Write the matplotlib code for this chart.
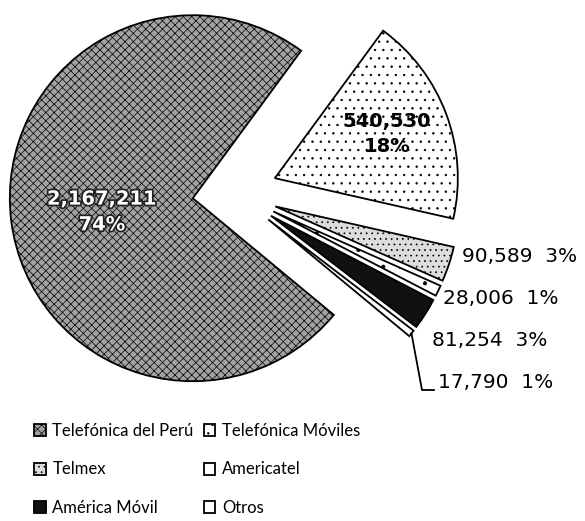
import numpy as np
import matplotlib.pyplot as plt
from matplotlib import patheffects

# datos del gráfico
operators = ["Telefónica del Perú", "Telefónica Móviles", "Telmex",
             "Americatel", "América Móvil", "Otros"]
lines = [2167211, 540530, 90589, 28006, 81254, 17790]

W, H = 585, 521
plt.rcParams['font.family'] = ['Lato', 'DejaVu Sans']
plt.rcParams['hatch.linewidth'] = 0.5

fig = plt.figure(figsize=(W / 100, H / 100), dpi=100)
ax = fig.add_axes([0, 0, 1, 1])

faces = ['#a2a2a2', 'white', '#dddddd', 'white', '#111111', 'white']
hatches = ['xxxx', '..', '...', '.', None, None]

wedges, _ = ax.pie(lines, radius=183, center=(235, H - 193), startangle=-39.6,
                   counterclock=False, explode=[42.5] * len(lines),
                   colors=faces, hatch=hatches,
                   wedgeprops=dict(edgecolor='black', linewidth=1.3))
ax.set_xlim(0, W)
ax.set_ylim(0, H)
ax.set_aspect('equal')
ax.axis('off')

total = sum(lines)
pct = [round(v / total * 100) for v in lines]

# etiquetas dentro
ax.text(102, H - 212, f"{lines[0]:,}\n{pct[0]}%", ha='center', va='center',
        color='white', fontsize=14, fontweight='bold', linespacing=1.45,
        family='DejaVu Sans',
        path_effects=[patheffects.withStroke(linewidth=2.5, foreground='#222222')])
ax.text(387, H - 134, f"{lines[1]:,}\n{pct[1]}%", ha='center', va='center',
        color='black', fontsize=14, fontweight='bold', linespacing=1.45,
        family='DejaVu Sans')

# etiquetas fuera
outside = [(462, 257), (443, 298), (432, 340), (438, 383)]
for i, (x, y) in zip(range(2, 6), outside):
    ax.text(x, H - y, f"{lines[i]:,}  {pct[i]}%", ha='left', va='center',
            fontsize=14.5, color='black', family='DejaVu Sans')

# línea guía para Otros
w = wedges[5]
th = np.deg2rad((w.theta1 + w.theta2) / 2)
tip = (w.center[0] + w.r * np.cos(th), w.center[1] + w.r * np.sin(th))
ax.plot([tip[0], 422, 434], [tip[1], H - 390, H - 390], color='black', lw=1.3)

order = [0, 2, 4, 1, 3, 5]
ax.legend([wedges[i] for i in order], [operators[i] for i in order], ncol=2,
          loc='upper left', bbox_to_anchor=(34, H - 423), bbox_transform=ax.transData,
          frameon=False, fontsize=12, handlelength=0.7, handleheight=0.7,
          handletextpad=0.4, labelspacing=1.35, columnspacing=0.6,
          borderpad=0, borderaxespad=0)

fig.savefig("out.png", dpi=100)
